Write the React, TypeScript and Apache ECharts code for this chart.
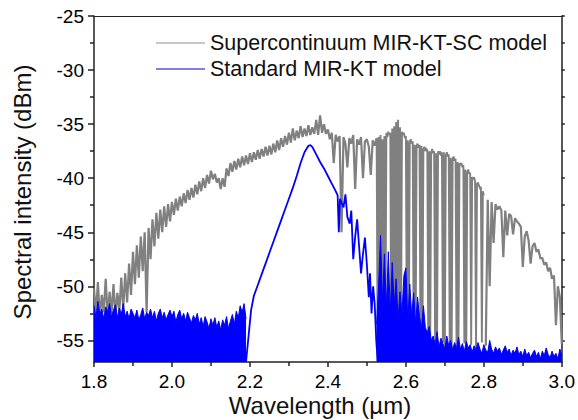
import React, { useEffect, useRef } from "react";
import * as echarts from "echarts";

// Supercontinuum MIR-KT-SC model (dBm)
// Part A: 1.800–2.525 µm, every 0.005 µm
const scAStart = 1.8;
const scAStep = 0.005;
const scA = [
  -50.2, -52.6, -49.6, -52.9, -50.8, -52.4, -49.3, -52.8, -50.5, -52.5,
  -49.8, -52.7, -50.6, -52.3, -49.2, -52.1, -48.8, -51.5, -47.9, -50.8,
  -46.8, -49.8, -46.2, -49.2, -45.4, -48.6, -45.0, -52.4, -44.6, -47.5,
  -43.8, -46.3, -43.2, -45.6, -42.9, -45.0, -42.6, -44.5, -42.4, -44.0,
  -42.2, -43.4, -41.9, -43.0, -41.7, -42.6, -41.4, -42.3, -41.1, -42.0,
  -40.9, -41.8, -40.6, -41.5, -40.3, -41.2, -40.0, -40.9, -39.7, -40.5,
  -39.3, -40.1, -39.6, -40.4, -40.0, -41.0, -40.0, -40.8, -39.1, -39.8,
  -38.6, -39.4, -38.4, -39.2, -38.2, -39.0, -38.0, -38.8, -37.9, -38.7,
  -37.7, -38.5, -37.6, -38.3, -37.4, -38.2, -37.3, -38.0, -37.1, -37.9,
  -37.0, -37.8, -36.8, -37.6, -36.5, -37.4, -36.3, -37.1, -36.1, -36.9,
  -35.8, -36.7, -35.4, -36.5, -35.6, -36.3, -35.2, -36.2, -35.4, -36.1,
  -35.1, -36.0, -35.3, -35.9, -34.6, -36.0, -34.2, -35.8, -35.0, -35.9,
  -35.5, -36.4, -35.8, -38.6, -36.0, -36.6, -36.1, -45.0, -36.2, -36.8,
  -39.0, -36.3, -36.8, -36.0, -41.0, -36.4, -36.9, -36.2, -40.0, -36.6,
  -36.4, -37.1, -39.7, -36.5, -37.0, -36.3,
];
// Part B: 2.525–2.800 µm, every 0.0025 µm (dense absorption dips)
const scBStart = 2.525;
const scBStep = 0.0025;
const scB = [
  -36.3,
  -55.0, -36.2, -55.6, -36.0, -54.8, -36.4, -55.5, -36.1, -55.2, -35.8,
  -36.2, -35.7, -36.0, -35.8, -55.3, -35.4, -55.8, -35.2, -55.1, -34.8,
  -55.5, -34.6, -55.0, -35.3, -55.6, -35.7, -36.0, -35.8, -36.3, -36.1,
  -55.4, -36.5, -55.8, -36.7, -36.4, -36.8, -36.6, -55.0, -36.9, -55.6,
  -37.0, -36.8, -37.2, -36.9, -55.7, -37.0, -55.2, -37.3, -37.1, -37.5,
  -37.3, -37.4, -55.9, -37.5, -55.1, -37.6, -37.3, -37.7, -37.5, -55.6,
  -37.7, -55.3, -37.5, -37.8, -37.5, -37.9, -37.6, -55.2, -37.6, -55.8,
  -37.9, -37.6, -38.0, -37.8, -55.4, -38.1, -55.9, -38.2, -38.0, -38.4,
  -38.2, -55.5, -38.5, -55.1, -38.6, -38.8, -38.6, -39.0, -38.8, -55.3,
  -39.2, -55.8, -39.4, -39.2, -39.6, -39.5, -55.4, -39.9, -40.1, -39.9,
  -40.3, -55.7, -40.5, -40.4, -40.7, -40.9, -40.8, -55.2, -41.2, -41.6,
];
// Part C: 2.805–3.000 µm, every 0.005 µm
const scCStart = 2.805;
const scCStep = 0.005;
const scC = [
  -55.5, -42.0, -50.0, -42.2, -46.0, -42.4, -42.9, -42.6, -43.0,
  -47.3, -43.0, -45.3, -43.3, -43.5, -45.2, -43.7, -44.0, -44.2, -44.5,
  -48.2, -45.4, -44.9, -45.8, -47.9, -46.3, -46.0, -46.8, -46.6, -47.4,
  -47.4, -48.0, -47.8, -48.6, -48.3, -49.3, -49.0, -53.6, -50.0, -51.0,
  -55.3,
];

// Standard MIR-KT model: noise floor below the signal, 1.8–2.19 µm, step 0.005
const stdFloorLeftStart = 1.8;
const stdFloorStep = 0.005;
const stdFloorLeft = [
  -51.8, -52.9, -51.4, -52.6, -52.1, -53.0, -51.9, -52.4, -51.6, -52.8,
  -52.2, -51.7, -52.9, -52.0, -52.6, -51.6, -52.8, -52.3, -53.0, -52.1,
  -52.5, -52.9, -52.2, -53.1, -52.6, -52.0, -53.0, -52.4, -52.7, -52.1,
  -52.9, -52.3, -53.2, -52.5, -52.1, -52.9, -52.4, -53.1, -52.6, -52.2,
  -52.8, -52.3, -53.3, -52.6, -52.2, -53.0, -52.5, -53.2, -52.4, -52.9,
  -53.4, -52.7, -53.1, -52.5, -53.5, -52.9, -53.7, -52.8, -53.3, -53.9,
  -53.0, -53.6, -52.9, -53.8, -53.2, -54.0, -53.1, -53.6, -52.8, -53.9,
  -53.2, -52.6, -53.5, -52.3, -52.9, -51.8, -52.4, -51.6, -53.0,
];

// Standard MIR-KT model: main signal
const stdWavelengths = [
  2.19, 2.197, 2.203, 2.21, 2.22, 2.23, 2.24, 2.25, 2.26, 2.27, 2.28, 2.29,
  2.3, 2.31, 2.32, 2.33, 2.34, 2.35, 2.355, 2.36, 2.37, 2.38, 2.39, 2.4,
  2.41, 2.42, 2.425, 2.428, 2.431, 2.44, 2.445, 2.45, 2.456, 2.46, 2.465,
  2.47, 2.475, 2.48, 2.485, 2.49, 2.495, 2.5, 2.505, 2.508, 2.512, 2.516,
  2.52, 2.524, 2.528,
];
const stdValues = [
  -57.0, -54.4, -52.2, -50.9, -49.9, -48.9, -47.9, -46.9, -45.9, -44.9, -43.9, -42.9,
  -41.9, -40.9, -39.8, -38.6, -37.6, -37.0, -36.95, -37.1, -37.8, -38.5, -39.1, -39.8,
  -40.5, -41.2, -41.6, -45.0, -41.9, -42.7, -41.5, -43.6, -44.2, -43.0, -47.5,
  -45.4, -43.8, -46.3, -48.8, -47.0, -45.5, -48.0, -51.0, -48.8, -52.5, -50.0,
  -51.6, -55.0, -57.0,
];

// Standard MIR-KT model: noise floor, 2.525–3.0 µm, step 0.005
const stdFloorRightStart = 2.525;
const stdFloorRight = [
  -53.5, -50.0, -45.3, -51.5, -47.0, -52.0, -46.8, -52.5, -47.8, -51.8,
  -49.3, -53.0, -50.5, -52.6, -49.0, -48.3, -53.2, -49.8, -52.7, -50.6,
  -53.5, -51.0, -52.8, -53.9, -51.8, -53.8, -54.3, -53.7, -55.0, -54.6,
  -55.4, -54.2, -55.6, -54.8, -55.3, -55.8, -54.6, -55.5, -55.0, -55.9,
  -55.2, -55.7, -54.7, -55.8, -55.3, -56.0, -55.1, -55.7, -55.4, -56.1,
  -55.5, -55.9, -55.2, -55.8, -56.2, -55.4, -55.9, -56.1, -55.0, -55.8,
  -56.2, -55.6, -56.0, -55.7, -56.3, -55.9, -55.5, -56.1, -55.8, -56.4,
  -55.9, -56.2, -55.6, -56.3, -56.0, -56.5, -55.8, -56.4, -56.1, -56.6,
  -56.2, -55.9, -56.5, -56.1, -56.7, -56.0, -56.4, -55.7, -56.3, -56.6,
  -56.0, -56.5, -56.2, -56.7, -55.8, -56.4,
];

const yLabelValues = [-55, -50, -45, -40, -35, -30, -25];
const yMinorValues = [-52.5, -47.5, -42.5, -37.5, -32.5, -27.5];
const seriesNames = ["Supercontinuum MIR-KT-SC model", "Standard MIR-KT model"];

const gridded = (start: number, step: number, vals: number[]) =>
  vals.map((v, i) => [Number((start + i * step).toFixed(4)), v]);

const FONT = "'Liberation Sans', Arial, sans-serif";
const AXIS_COLOR = "#222";

export default function App() {
  const ref = useRef<HTMLDivElement>(null);
  useEffect(() => {
    if (!ref.current) return;
    const chart = echarts.init(ref.current, undefined, { renderer: "svg" });
    const blue = "#0000ff";
    const gray = "#808080";
    const axisLineStyle = { color: AXIS_COLOR, width: 1.5 };
    const grayLine = (data: number[][], width: number) => ({
      name: seriesNames[0],
      type: "line",
      data,
      showSymbol: false,
      symbol: "none",
      sampling: undefined,
      lineStyle: { color: gray, width, join: "miter", miterLimit: 2 },
      itemStyle: { color: gray },
      z: 2,
    });
    const blueArea = (data: number[][]) => ({
      name: seriesNames[1],
      type: "line",
      data,
      showSymbol: false,
      symbol: "none",
      lineStyle: { color: blue, width: 1 },
      itemStyle: { color: blue },
      areaStyle: { origin: "start", color: blue, opacity: 1 },
      z: 3,
    });
    chart.setOption({
      animation: false,
      backgroundColor: "#fff",
      grid: { left: 94, right: 16, top: 16, bottom: 58, containLabel: false },
      xAxis: [
        {
          type: "value",
          min: 1.8,
          max: 3.0,
          interval: 0.2,
          position: "bottom",
          axisLine: { show: true, onZero: false, lineStyle: axisLineStyle },
          axisTick: { show: true, inside: false, length: 5, lineStyle: axisLineStyle },
          minorTick: { show: true, splitNumber: 2, length: 4, lineStyle: axisLineStyle },
          splitLine: { show: false },
          axisLabel: {
            fontSize: 19,
            color: "#000",
            fontFamily: FONT,
            margin: 10,
            formatter: (v: number) => v.toFixed(1),
          },
        },
        {
          type: "value",
          min: 1.8,
          max: 3.0,
          interval: 0.2,
          position: "top",
          axisLine: { show: true, onZero: false, lineStyle: { color: AXIS_COLOR, width: 1.2 } },
          axisTick: { show: false },
          axisLabel: { show: false },
          splitLine: { show: false },
        },
      ],
      yAxis: [
        {
          type: "value",
          min: -57,
          max: -25,
          position: "left",
          axisLine: { show: true, onZero: false, lineStyle: axisLineStyle },
          axisTick: { show: true, inside: false, length: 6, customValues: yLabelValues, lineStyle: axisLineStyle },
          splitLine: { show: false },
          axisLabel: {
            customValues: yLabelValues,
            fontSize: 19,
            color: "#000",
            fontFamily: FONT,
            margin: 10,
          },
        },
        {
          type: "value",
          min: -57,
          max: -25,
          position: "left",
          axisLine: { show: false },
          axisTick: { show: true, inside: false, length: 4, customValues: yMinorValues, lineStyle: axisLineStyle },
          splitLine: { show: false },
          axisLabel: { show: false },
        },
        {
          type: "value",
          min: -57,
          max: -25,
          position: "right",
          axisLine: { show: true, onZero: false, lineStyle: axisLineStyle },
          axisTick: {
            show: true,
            inside: false,
            length: 3,
            customValues: [...yLabelValues, ...yMinorValues],
            lineStyle: axisLineStyle,
          },
          splitLine: { show: false },
          axisLabel: { show: false },
        },
      ],
      series: [
        grayLine(gridded(scAStart, scAStep, scA), 2.2),
        grayLine(gridded(scBStart, scBStep, scB), 1.9),
        grayLine(gridded(scCStart, scCStep, scC), 2.2),
        blueArea(gridded(stdFloorLeftStart, stdFloorStep, stdFloorLeft)),
        {
          name: seriesNames[1],
          type: "line",
          data: stdWavelengths.map((w, i) => [w, stdValues[i]]),
          showSymbol: false,
          symbol: "none",
          lineStyle: { color: blue, width: 1.8 },
          itemStyle: { color: blue },
          z: 3,
        },
        blueArea(gridded(stdFloorRightStart, stdFloorStep, stdFloorRight)),
      ],
      graphic: [
        {
          type: "line",
          shape: { x1: 156, y1: 43, x2: 205, y2: 43 },
          style: { stroke: "#b4b4b4", lineWidth: 1.5 },
        },
        {
          type: "text",
          x: 210,
          y: 43,
          style: {
            text: seriesNames[0],
            fontSize: 21.5,
            fontFamily: FONT,
            fill: "#111",
            verticalAlign: "middle",
            align: "left",
          },
        },
        {
          type: "line",
          shape: { x1: 156, y1: 69, x2: 205, y2: 69 },
          style: { stroke: "#0000cc", lineWidth: 1.2 },
        },
        {
          type: "text",
          x: 210,
          y: 69,
          style: {
            text: seriesNames[1],
            fontSize: 21.5,
            fontFamily: FONT,
            fill: "#111",
            verticalAlign: "middle",
            align: "left",
          },
        },
        {
          type: "text",
          x: 320,
          y: 405,
          style: {
            text: "Wavelength (µm)",
            fontSize: 24,
            fontFamily: FONT,
            fill: "#111",
            align: "center",
            verticalAlign: "middle",
          },
        },
        {
          type: "text",
          x: 22,
          y: 192,
          rotation: Math.PI / 2,
          style: {
            text: "Spectral intensity (dBm)",
            fontSize: 24,
            fontFamily: FONT,
            fill: "#111",
            align: "center",
            verticalAlign: "middle",
          },
        },
      ],
    });
    return () => chart.dispose();
  }, []);
  return (
    <div
      ref={ref}
      style={{ position: "fixed", left: 0, top: 0, width: 578, height: 420 }}
    />
  );
}
